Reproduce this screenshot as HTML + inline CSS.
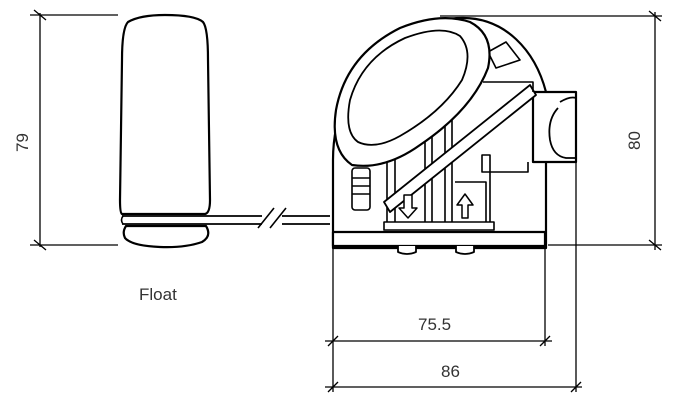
<!DOCTYPE html>
<html><head><meta charset="utf-8"><style>
html,body{margin:0;padding:0;background:#fff;}
svg{display:block}
text{font-family:"Liberation Sans",sans-serif;fill:#333;}
</style></head><body>
<svg width="683" height="417" viewBox="0 0 683 417" xmlns="http://www.w3.org/2000/svg">
<g stroke="#000" fill="none" stroke-width="1.3">
 <line x1="40" y1="13" x2="40" y2="247"/>
 <line x1="30" y1="15" x2="118" y2="15"/>
 <line x1="30" y1="245" x2="118" y2="245"/>
 <line x1="34" y1="10" x2="46" y2="20"/>
 <line x1="34" y1="240" x2="46" y2="250"/>
 <line x1="440" y1="16" x2="662" y2="16"/>
 <line x1="655" y1="12" x2="655" y2="250"/>
 <line x1="548" y1="245" x2="662" y2="245"/>
 <line x1="649" y1="11" x2="661" y2="21"/>
 <line x1="649" y1="240" x2="661" y2="250"/>
 <line x1="333" y1="245" x2="333" y2="392"/>
 <line x1="545" y1="245" x2="545" y2="346"/>
 <line x1="576" y1="162" x2="576" y2="392"/>
 <line x1="325" y1="341" x2="552" y2="341"/>
 <line x1="325" y1="387" x2="582" y2="387"/>
 <line x1="328" y1="346" x2="338" y2="336"/>
 <line x1="540" y1="346" x2="550" y2="336"/>
 <line x1="328" y1="392" x2="338" y2="382"/>
 <line x1="571" y1="392" x2="581" y2="382"/>
</g>
<g stroke="#000" fill="#fff" stroke-width="2.2" stroke-linejoin="round">
 <path d="M128 22 Q140 15 165 15 Q195 15 203 22 Q208 28 208 60 L210 200 Q210 213 205 214 L122 214 Q120 213 120 200 L122 60 Q122 28 128 22 Z"/>
 <path d="M126 226 L206 226 Q212 236 202 242 Q185 248 160 247 Q132 246 125 238 Q122 232 126 226 Z"/>
 <path d="M122 216 L330 216 M122 224 L330 224" stroke-width="1.8"/>
 <path d="M123 216 Q120 220 123 224" stroke-width="1.6"/>
 <rect x="262" y="208" width="20" height="22" fill="#fff" stroke="none"/>
 <path d="M258 228 L274 208 M270 228 L286 208" stroke-width="1.6"/>
 <!-- device body -->
 <path d="M333 248 L333 160 C333 80 390 18 463 18 C505 18 535 50 546 92 L546 248 Z"/>
 <rect x="333" y="232" width="212" height="14"/>
 <path d="M398 246 L398 252 Q407 256 416 252 L416 246" stroke-width="1.8"/>
 <path d="M456 246 L456 252 Q465 256 474 252 L474 246" stroke-width="1.8"/>
 <path d="M533 92 L576 92 L576 162 L533 162 Z"/>
 <path d="M558 108 Q547 120 550 140 Q553 156 566 158 L576 158 M560 102 Q570 96 576 98" stroke-width="1.8" fill="none"/>
 <path d="M387 225 L387 160 M395 222 L395 150 M425 222 L425 130 M432 222 L432 125 M445 222 L445 118 M452 222 L452 112 M490 222 L490 155 L482 155 L482 172 L528 172 L528 162 M455 182 L486 182 L486 222" stroke-width="1.6" fill="none"/>
 <rect x="384" y="222" width="110" height="8" stroke-width="1.6"/>
 <path d="M384 202 L530 85 L536 95 L390 212 Z" stroke-width="1.8"/>
 <path d="M483 82 L533 82 L533 92" stroke-width="1.6" fill="none"/>
 <path d="M488 52 L506 42 L520 60 L496 68 Z" stroke-width="1.6"/>
 <!-- handle -->
 <path d="M352 165 Q330 150 336 110 Q346 55 400 28 Q440 12 470 22 Q495 35 488 68 Q472 110 420 145 Q385 170 352 165 Z"/>
 <path d="M358 142 Q344 132 350 100 Q362 58 405 38 Q442 24 460 36 Q474 52 462 80 Q442 112 400 136 Q375 150 358 142 Z" stroke-width="1.8"/>
 <rect x="352" y="168" width="18" height="42" rx="3" stroke-width="1.6"/>
 <path d="M352 178 L370 178 M352 186 L370 186 M352 194 L370 194" stroke-width="1.4"/>
 <path d="M404 195 L412 195 L412 208 L417 208 L408 218 L399 208 L404 208 Z" stroke-width="1.5"/>
 <path d="M462 218 L468 218 L468 205 L473 205 L465 194 L457 205 L462 205 Z" stroke-width="1.5"/>
</g>
<text x="0" y="0" font-size="17" transform="translate(28,152) rotate(-90)">79</text>
<text x="0" y="0" font-size="17" transform="translate(640,150) rotate(-90)">80</text>
<text x="139" y="300" font-size="17">Float</text>
<text x="418" y="330" font-size="17">75.5</text>
<text x="441" y="377" font-size="17">86</text>
</svg>
</body></html>
